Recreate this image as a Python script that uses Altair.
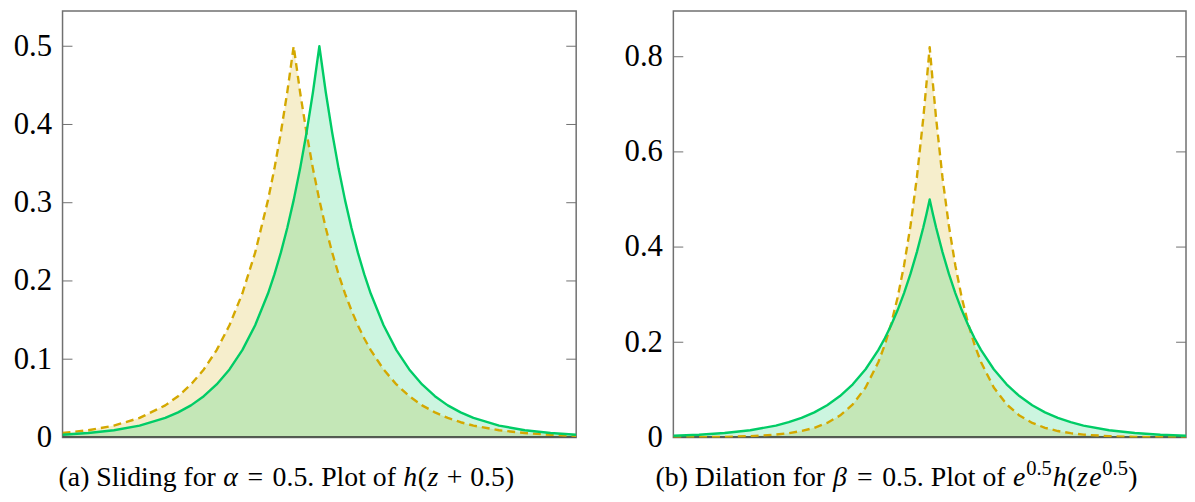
import altair as alt
import pandas as pd

# ---------------- data ----------------
X_A = [-5, -4.5, -4, -3.5, -3, -2.75, -2.5, -2.25, -2, -1.75, -1.5, -1.25, -1,
       -0.875, -0.75, -0.625, -0.5, -0.375, -0.25, -0.125, 0,
       0.125, 0.25, 0.375, 0.5, 0.625, 0.75, 0.875, 1, 1.25, 1.5, 1.75, 2,
       2.25, 2.5, 2.75, 3, 3.5, 4, 4.5, 5]
GREEN_A = [0.0034, 0.0056, 0.0092, 0.0151, 0.0249, 0.0320, 0.0410, 0.0527, 0.0677,
           0.0869, 0.1116, 0.1433, 0.1839, 0.2084, 0.2362, 0.2676, 0.3033, 0.3436,
           0.3894, 0.4412, 0.5000,
           0.4412, 0.3894, 0.3436, 0.3033, 0.2676, 0.2362, 0.2084, 0.1839, 0.1433,
           0.1116, 0.0869, 0.0677, 0.0527, 0.0410, 0.0320, 0.0249, 0.0151, 0.0092,
           0.0056, 0.0034]
DASH_A = [0.0056, 0.0092, 0.0151, 0.0249, 0.0410, 0.0527, 0.0677, 0.0869, 0.1116,
          0.1433, 0.1839, 0.2362, 0.3033, 0.3436, 0.3894, 0.4412, 0.5000, 0.4412,
          0.3894, 0.3436, 0.3033,
          0.2676, 0.2362, 0.2084, 0.1839, 0.1623, 0.1433, 0.1264, 0.1116, 0.0869,
          0.0677, 0.0527, 0.0410, 0.0320, 0.0249, 0.0194, 0.0151, 0.0092, 0.0056,
          0.0034, 0.0020]

X_B = [-5, -4.5, -4, -3.5, -3, -2.75, -2.5, -2.25, -2, -1.75, -1.5, -1.25, -1,
       -0.875, -0.75, -0.625, -0.5, -0.375, -0.25, -0.125, -0.0625, 0, 0.0625,
       0.125, 0.25, 0.375, 0.5, 0.625, 0.75, 0.875, 1, 1.25, 1.5, 1.75, 2,
       2.25, 2.5, 2.75, 3, 3.5, 4, 4.5, 5]
GREEN_B = [0.0034, 0.0056, 0.0092, 0.0151, 0.0249, 0.0320, 0.0410, 0.0527, 0.0677,
           0.0869, 0.1116, 0.1433, 0.1839, 0.2084, 0.2362, 0.2676, 0.3033, 0.3436,
           0.3894, 0.4412, 0.4697, 0.5000, 0.4697,
           0.4412, 0.3894, 0.3436, 0.3033, 0.2676, 0.2362, 0.2084, 0.1839, 0.1433,
           0.1116, 0.0869, 0.0677, 0.0527, 0.0410, 0.0320, 0.0249, 0.0151, 0.0092,
           0.0056, 0.0034]
DASH_B = [0.0002, 0.0005, 0.0011, 0.0026, 0.0059, 0.0089, 0.0134, 0.0202, 0.0305,
          0.0460, 0.0695, 0.1050, 0.1585, 0.1948, 0.2394, 0.2942, 0.3615, 0.4443,
          0.5459, 0.6708, 0.7437, 0.8200, 0.7437,
          0.6708, 0.5459, 0.4443, 0.3615, 0.2942, 0.2394, 0.1948, 0.1585, 0.1050,
          0.0695, 0.0460, 0.0305, 0.0202, 0.0134, 0.0089, 0.0059, 0.0026, 0.0011,
          0.0005, 0.0002]

TICKS_A = [0, 0.1, 0.2, 0.3, 0.4, 0.5]
TICKS_B = [0, 0.2, 0.4, 0.6, 0.8]

# caption tokens: (text, italic, size factor, rise px, advance in em)
CAPTION_A = [("(a) Sliding for", False, 1.0, 0, 5.666), (" ", False, 1.0, 0, 0.25),
             ("α", True, 1.0, 0, 0.55), (" ", False, 1.0, 0, 0.278),
             ("=", False, 1.0, 0, 0.686), (" ", False, 1.0, 0, 0.278),
             ("0.5. Plot of", False, 1.0, 0, 4.445), (" ", False, 1.0, 0, 0.25),
             ("h", True, 1.0, 0, 0.53), ("(", False, 1.0, 0, 0.333),
             ("z", True, 1.0, 0, 0.43), (" ", False, 1.0, 0, 0.222),
             ("+", False, 1.0, 0, 0.686), (" ", False, 1.0, 0, 0.222),
             ("0.5)", False, 1.0, 0, 1.583)]
CAPTION_B = [("(b) Dilation for", False, 1.0, 0, 6.11), (" ", False, 1.0, 0, 0.25),
             ("β", True, 1.0, 0, 0.56), (" ", False, 1.0, 0, 0.278),
             ("=", False, 1.0, 0, 0.686), (" ", False, 1.0, 0, 0.278),
             ("0.5. Plot of", False, 1.0, 0, 4.445), (" ", False, 1.0, 0, 0.25),
             ("e", True, 1.0, 0, 0.48), ("0.5", False, 0.74, 11, 0.95),
             ("h", True, 1.0, 0, 0.54), ("(", False, 1.0, 0, 0.333),
             ("z", True, 1.0, 0, 0.44), ("e", True, 1.0, 0, 0.48),
             ("0.5", False, 0.74, 11, 0.95), (")", False, 1.0, 0, 0.333)]

# ---------------- styling ----------------
FONT = "Liberation Serif"
GREEN = "#00CC66"
YELLOW = "#D4A800"
FRAME = "#707070"
H = 430
CAP_SIZE = 28
CAP_BASE = 479

ONE = pd.DataFrame({"k": [0]})


def caption_layers(tokens, x0, y0, size):
    layers = []
    x = x0
    for s, italic, scale, rise, adv in tokens:
        if s.strip():
            fs = size * scale
            layers.append(
                alt.Chart(ONE).mark_text(
                    align='center', baseline='alphabetic', font=FONT, fontSize=fs,
                    fontStyle='italic' if italic else 'normal', color='black'
                ).encode(x=alt.value(x + adv * size / 2), y=alt.value(y0 - rise),
                         text=alt.value(s))
            )
        x += adv * size
    return layers


def panel(xs, green, dash, ymax, ticks, caption, cap_x, width):
    dfg = pd.DataFrame({"x": xs, "y": green})
    dfd = pd.DataFrame({"x": xs, "y": dash})
    xsc = alt.Scale(domain=[-5, 5], nice=False)
    ysc = alt.Scale(domain=[0, ymax], nice=False)
    yaxis = alt.Axis(values=ticks, ticks=False, domain=False, grid=False,
                     labelExpr="datum.value == 0 ? '0' : format(datum.value, '.1f')",
                     labelFont=FONT, labelFontSize=31, labelColor='black',
                     labelPadding=11, labelFlush=False, labelOverlap=False,
                     minExtent=54, maxExtent=54)
    xenc = alt.X("x:Q", scale=xsc, axis=None)
    yenc = alt.Y("y:Q", scale=ysc, axis=yaxis, title=None)
    area_d = alt.Chart(dfd).mark_area(color=YELLOW, opacity=0.2, clip=True).encode(x=xenc, y=yenc)
    area_g = alt.Chart(dfg).mark_area(color=GREEN, opacity=0.2, clip=True).encode(x=xenc, y=yenc)
    dft = pd.DataFrame({"v": ticks})
    tick_l = alt.Chart(dft).mark_rule(color=FRAME, strokeWidth=1, clip=True).encode(
        y=alt.Y("v:Q", scale=ysc, axis=yaxis, title=None), x=alt.value(0), x2=alt.value(10))
    tick_r = alt.Chart(dft).mark_rule(color=FRAME, strokeWidth=1, clip=True).encode(
        y=alt.Y("v:Q", scale=ysc, axis=yaxis, title=None), x=alt.value(width - 10),
        x2=alt.value(width))
    bottom = alt.Chart(ONE).mark_rule(color="#333333", strokeWidth=1.5, clip=True).encode(
        y=alt.value(H - 0.5), x=alt.value(0), x2=alt.value(width))
    line_d = alt.Chart(dfd).mark_line(color=YELLOW, strokeWidth=2.4, strokeDash=[8, 5],
                                      strokeJoin='round', clip=True).encode(x=xenc, y=yenc)
    line_g = alt.Chart(dfg).mark_line(color=GREEN, strokeWidth=2.4, strokeJoin='round',
                                      clip=True).encode(x=xenc, y=yenc)
    caps = caption_layers(caption, cap_x, CAP_BASE, CAP_SIZE)
    return alt.layer(area_d, area_g, tick_l, tick_r, bottom, line_d, line_g, *caps).properties(
        width=width, height=H)


left = panel(X_A, GREEN_A, DASH_A, 0.545, TICKS_A, CAPTION_A, -4, 518)
right = panel(X_B, GREEN_B, DASH_B, 0.896, TICKS_B, CAPTION_B, -18, 517)

chart = alt.hconcat(left, right, spacing=42).properties(
    padding={"left": 0, "top": 0, "right": 0, "bottom": 0}
).configure_view(stroke=FRAME, strokeWidth=1.5)

chart.save("out.html", embed_options={"renderer": "svg", "actions": False})
